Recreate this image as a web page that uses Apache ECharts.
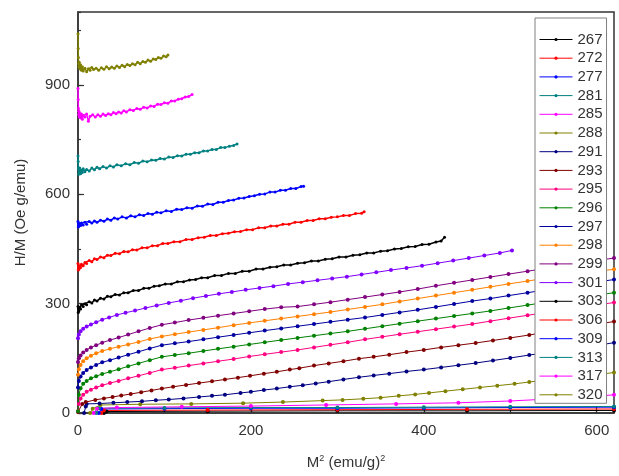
<!DOCTYPE html>
<html><head><meta charset="utf-8">
<script src="https://cdn.jsdelivr.net/npm/echarts@6/dist/echarts.min.js"></script>
<style>html,body{margin:0;padding:0;background:#fff}#c{width:619px;height:476px}</style>
</head><body><div id="c"></div>
<script>
const temps = ['267','272','277','281','285','288','291','293','295','296','297','298','299','301','303','306','309','313','317','320'];
const colors = ['#000000','#FF0000','#0000FF','#008080','#FF00FF','#808000','#000080','#800000','#FF0080','#008000','#0000A0','#FF8000','#800080','#8000FF','#000000','#FF0000','#0000FF','#008080','#FF00FF','#808000'];
const xTicks = [0,200,400,600];
const yTicks = [0,300,600,900];

const d267 = [[30,0],[33,4],[150,5],[300,6],[450,6],[620,7]];
const d272 = [[27,0],[30,7],[150,8],[300,9],[450,10],[620,11]];
const d277 = [[24,0],[27,11],[100,12],[200,13],[300,13],[400,14],[500,15],[620,16]];
const d281 = [[21,0],[24,13],[100,14],[200,15],[300,15],[400,16],[500,17],[620,18]];
const d285 = [[18,0],[22,12],[45,15],[120,17],[200,19],[287,22],[368,25],[440,28],[500,33],[550,39],[590,44],[620,50]];
const d288 = [[14,0],[17,12],[26,22],[72,24],[131,25],[191,27],[237,30],[283,34],[306,36],[330,39],[350,42],[371,47],[390,51],[406,55],[425,60],[445,65],[465,70],[485,75],[505,80],[522,85],[540,90],[560,95],[580,100],[600,105],[620,111]];
const d291 = [[7,0],[9,18],[10,25],[25,26],[41,28],[57,30],[74,32],[90,35],[105,37],[122,40],[140,44],[155,47],[170,50],[188,55],[200,58],[215,63],[230,67],[245,72],[260,76],[275,81],[290,86],[307,92],[325,98],[342,103],[360,108],[380,114],[400,119],[420,125],[440,131],[460,137],[480,144],[500,151],[522,159],[540,165],[560,172],[580,178],[600,185],[620,193]];
const d293 = [[0,3],[5,25],[9,30],[20,36],[30,40],[40,44],[50,48],[61,52],[73,57],[85,62],[97,67],[110,72],[125,77],[140,82],[155,87],[170,92],[185,97],[199,102],[215,108],[230,113],[245,119],[256,123],[273,130],[290,136],[307,142],[325,149],[342,154],[360,160],[380,167],[400,173],[420,180],[440,186],[460,192],[480,199],[500,206],[522,214],[540,221],[560,229],[580,236],[600,243],[620,251]];
const d295 = [[0,5],[1,25],[3,40],[6,50],[10,58],[15,64],[21,70],[28,76],[37,82],[47,88],[58,95],[70,102],[83,110],[97,119],[112,124],[128,130],[145,136],[162,142],[180,148],[198,155],[216,161],[235,167],[254,173],[273,180],[292,187],[312,194],[332,202],[352,209],[372,216],[393,223],[414,230],[435,237],[456,244],[477,252],[498,260],[520,268],[542,276],[564,284],[586,292],[608,299],[620,303]];
const d296 = [[0,5],[1,50],[3,68],[6,80],[10,88],[15,95],[21,101],[28,107],[37,113],[47,120],[58,128],[70,136],[83,145],[97,154],[112,159],[128,164],[145,170],[162,176],[180,182],[198,188],[216,194],[235,200],[254,206],[273,212],[292,218],[312,224],[332,231],[352,238],[372,245],[393,252],[414,259],[435,266],[456,273],[477,280],[498,288],[520,296],[542,304],[564,312],[586,319],[608,326],[620,330]];
const d297 = [[0,70],[1,88],[3,100],[6,110],[10,118],[15,125],[21,132],[28,139],[37,145],[47,152],[58,160],[70,168],[83,177],[97,186],[112,191],[128,196],[145,202],[162,208],[180,214],[198,220],[216,226],[235,232],[254,238],[273,244],[292,250],[312,256],[332,262],[352,269],[372,276],[393,283],[414,291],[435,299],[456,307],[477,314],[498,322],[520,330],[542,338],[564,346],[586,354],[608,362],[620,366]];
const d298 = [[0,105],[1,120],[3,132],[6,142],[10,150],[15,157],[21,164],[28,170],[37,176],[47,182],[58,188],[70,195],[83,203],[97,210],[112,216],[128,222],[145,228],[162,234],[180,241],[198,247],[216,253],[235,259],[254,265],[273,271],[292,277],[312,284],[332,291],[352,298],[372,306],[393,314],[414,322],[435,330],[456,338],[477,346],[498,354],[520,362],[542,370],[564,378],[586,385],[608,391],[620,394]];
const d299 = [[0,140],[1,150],[3,158],[6,166],[10,173],[15,180],[21,186],[28,193],[37,200],[47,207],[58,215],[70,224],[83,233],[97,242],[112,248],[128,255],[145,261],[162,267],[180,273],[198,279],[216,285],[235,290],[254,292],[273,298],[292,304],[312,311],[332,318],[352,325],[372,332],[393,340],[414,349],[435,357],[456,365],[477,373],[498,381],[520,389],[542,397],[564,405],[586,413],[608,421],[620,425]];
const d301 = [[0,205],[1,215],[3,224],[6,231],[10,237],[15,243],[21,249],[28,256],[36,262],[45,269],[55,275],[66,281],[78,288],[91,295],[105,302],[119,308],[133,315],[148,321],[163,327],[178,332],[194,338],[210,343],[226,348],[243,354],[260,359],[277,364],[294,369],[311,374],[328,380],[345,386],[362,392],[380,398],[398,404],[416,411],[434,418],[452,425],[470,432],[488,439],[502,446]];
const d303 = [[0,292],[0.3,276],[0.7,286],[1,280],[2,290],[3,285],[4,296],[6,292],[8,300],[10,297],[13,305],[16,302],[19,310],[22,307],[26,315],[30,313],[34,320],[38,319],[43,325],[48,324],[53,330],[58,330],[64,336],[70,336],[76,342],[82,342],[88,348],[94,349],[101,354],[108,354],[115,360],[122,360],[129,365],[136,366],[143,371],[150,371],[158,377],[166,377],[174,383],[182,383],[190,389],[198,389],[206,395],[214,395],[222,400],[230,401],[238,406],[246,406],[254,411],[262,412],[270,417],[278,417],[286,422],[294,423],[302,428],[310,428],[318,433],[326,434],[334,439],[342,439],[350,444],[358,445],[366,450],[374,451],[382,456],[390,457],[398,462],[406,463],[414,469],[420,472],[424,482]];
const d306 = [[0,410],[0.3,392],[0.7,400],[1,394],[2,404],[3,399],[4,408],[6,404],[8,413],[10,410],[13,418],[16,415],[19,423],[22,421],[26,428],[30,426],[34,433],[38,432],[43,438],[48,437],[53,443],[58,442],[63,448],[68,447],[74,453],[80,453],[86,459],[92,459],[98,465],[104,465],[111,470],[118,470],[125,476],[132,476],[139,481],[146,482],[153,487],[160,487],[167,492],[174,493],[181,497],[188,498],[195,503],[202,503],[209,508],[216,508],[223,513],[230,513],[237,518],[244,518],[251,523],[258,523],[265,528],[272,528],[279,533],[286,533],[293,537],[300,538],[307,542],[314,542],[321,547],[328,548],[331,552]];
const d309 = [[0,525],[0.3,510],[0.7,518],[1,512],[2,520],[3,514],[4,521],[6,516],[8,523],[10,518],[13,525],[16,521],[19,527],[22,523],[26,529],[30,526],[34,532],[38,529],[42,535],[46,532],[51,538],[56,535],[61,541],[66,538],[71,544],[76,542],[81,547],[86,545],[91,551],[96,549],[102,555],[108,553],[114,559],[120,558],[126,563],[132,562],[138,568],[144,567],[150,573],[156,572],[162,578],[168,578],[174,583],[180,584],[186,589],[192,590],[198,594],[204,596],[210,600],[216,601],[222,606],[228,606],[234,611],[240,611],[246,616],[252,616],[258,621],[261,622]];
const d313 = [[0,705],[0.2,690],[0.5,672],[0.8,655],[1,668],[1.5,660],[2,672],[3,656],[4,666],[5,660],[6,670],[8,662],[10,668],[13,664],[16,672],[19,667],[22,674],[25,670],[29,676],[33,672],[37,678],[41,675],[45,681],[50,678],[55,684],[60,681],[65,687],[70,685],[75,691],[80,689],[85,694],[90,693],[95,698],[100,697],[105,702],[110,701],[115,706],[120,705],[125,710],[130,710],[135,714],[140,714],[145,719],[150,719],[155,723],[160,723],[165,728],[170,728],[175,732],[180,734],[184,738]];
const d317 = [[0,890],[0.2,860],[0.5,835],[0.8,818],[1,828],[1.5,812],[2,822],[3,810],[4,820],[5,806],[6,816],[8,812],[10,820],[12,800],[14,814],[17,818],[20,812],[23,818],[26,814],[29,820],[32,816],[35,821],[38,818],[41,824],[44,821],[47,826],[50,823],[53,829],[56,826],[60,832],[64,830],[68,835],[72,833],[76,839],[80,837],[84,842],[88,841],[92,847],[96,846],[100,851],[104,850],[108,856],[112,856],[116,861],[120,862],[124,867],[128,868],[132,874]];
const d320 = [[0,1040],[0.2,1000],[0.4,975],[0.7,958],[1,950],[1.5,962],[2,944],[3,955],[4,940],[5,950],[6,938],[8,946],[10,936],[12,944],[14,940],[16,948],[18,942],[21,946],[24,940],[27,947],[30,943],[33,950],[36,944],[39,949],[42,946],[45,952],[48,948],[51,954],[54,950],[57,956],[60,953],[63,958],[66,955],[69,962],[72,958],[75,964],[78,962],[81,968],[84,965],[87,971],[90,970],[93,975],[96,973],[99,979],[102,977],[104,982]];

const allData = [d267,d272,d277,d281,d285,d288,d291,d293,d295,d296,d297,d298,d299,d301,d303,d306,d309,d313,d317,d320];
const noisy = ['303','306','309','313','317','320'];
const FONT = 'Liberation Sans, Arial, sans-serif';

const series = temps.map((t, i) => {
  const dense = noisy.indexOf(t) >= 0;
  return {
    name: t, type: 'line', data: allData[i], xAxisIndex: 0, yAxisIndex: 0,
    symbol: 'circle', symbolSize: dense ? 3 : 4, showSymbol: true,
    lineStyle: { color: colors[i], width: dense ? 1.5 : 1 },
    itemStyle: { color: colors[i] },
    animation: false, clip: true, z: 2
  };
});

const chart = echarts.init(document.getElementById('c'), null, { renderer: 'canvas' });
chart.setOption({
  backgroundColor: '#fff',
  animation: false,
  grid: { left: 78, right: 5, top: 12, bottom: 63, show: true, borderColor: '#333', borderWidth: 1.5, backgroundColor: 'transparent' },
  legend: {
    orient: 'vertical', left: 535, top: 18, data: temps,
    padding: [14, 4, 1, 4], itemWidth: 33, itemHeight: 4, itemGap: 3.7,
    borderColor: '#808080', borderWidth: 1, backgroundColor: '#fff',
    lineStyle: { width: 1 },
    textStyle: { fontSize: 15, color: '#333', fontFamily: FONT }
  },
  xAxis: [{
    type: 'value', min: 0, max: 620, interval: 200, position: 'bottom',
    name: '{a|M}{s|2}{a| (emu/g)}{s|2}', nameLocation: 'middle', nameGap: 41,
    nameTextStyle: { rich: { a: { fontSize: 15, color: '#333', fontFamily: FONT }, s: { fontSize: 9, color: '#333', fontFamily: FONT, verticalAlign: 'top', padding: [0, 0, 8, 0] } } },
    axisLine: { show: true, lineStyle: { color: '#333', width: 1.5 } },
    axisTick: { show: true, inside: true, length: 6, lineStyle: { color: '#333', width: 1.2 } },
    axisLabel: { fontSize: 15, color: '#333', fontFamily: FONT, margin: 10, showMaxLabel: false,
      formatter: v => xTicks.indexOf(v) >= 0 ? String(v) : '' },
    splitLine: { show: false }
  }, {
    type: 'value', min: 0, max: 620, interval: 100, position: 'bottom', offset: 0, gridIndex: 0,
    axisLine: { show: false }, axisLabel: { show: false }, splitLine: { show: false },
    axisTick: { show: true, inside: true, length: 3, lineStyle: { color: '#333', width: 1.2 } }
  }],
  yAxis: [{
    type: 'value', min: 0, max: 1100, interval: 300, position: 'left',
    name: 'H/M (Oe g/emu)', nameLocation: 'middle', nameGap: 50,
    nameTextStyle: { fontSize: 15, color: '#333', fontFamily: FONT },
    axisLine: { show: true, lineStyle: { color: '#333', width: 1.5 } },
    axisTick: { show: true, inside: true, length: 6, lineStyle: { color: '#333', width: 1.2 } },
    axisLabel: { fontSize: 15, color: '#333', fontFamily: FONT, margin: 8, showMaxLabel: false,
      formatter: v => yTicks.indexOf(v) >= 0 ? String(v) : '' },
    splitLine: { show: false }
  }, {
    type: 'value', min: 0, max: 1100, interval: 150, position: 'left', offset: 0, gridIndex: 0,
    axisLine: { show: false }, axisLabel: { show: false }, splitLine: { show: false },
    axisTick: { show: true, inside: true, length: 3, lineStyle: { color: '#333', width: 1.2 } }
  }],
  series: series
});
</script></body></html>
